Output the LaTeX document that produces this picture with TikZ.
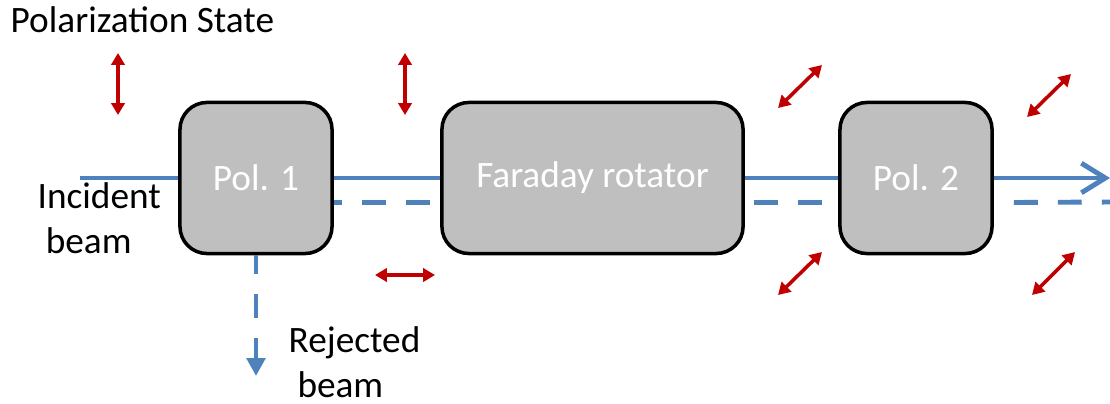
\documentclass[tikz,border=0pt]{standalone}
\usepackage{fontspec}
\setmainfont{Carlito}
\usetikzlibrary{arrows.meta}
\definecolor{beamblue}{HTML}{4F81BD}
\definecolor{polred}{HTML}{C00000}
\definecolor{boxgray}{HTML}{BFBFBF}

\begin{document}
\begin{tikzpicture}[x=0.01cm,y=-0.01cm,
    font=\fontsize{10.6}{12.8}\selectfont,
    box/.style={draw,line width=1pt,fill=boxgray,rounded corners=0.27cm,
      text=white,minimum height=1.51cm},
    beam/.style={draw=beamblue,line width=1.4pt},
    dashbeam/.style={beam,dash pattern=on 6.8pt off 5.7pt},
    pol/.style={draw=polred,line width=1pt,
      {Triangle[length=3.4pt,width=3.8pt]}-{Triangle[length=3.4pt,width=3.8pt]}},
    txt/.style={inner sep=0pt,align=left}]
\useasboundingbox (0,0) rectangle (1110,403);
%
\node [box,minimum width=1.52cm] at (256,178) (pol1) {Pol. 1};
\node [box,minimum width=3.01cm] at (592.5,178) (faraday) {Faraday rotator};
\node [box,minimum width=1.52cm] at (916,178) (pol2) {Pol. 2};
%
\coordinate (in) at (80,178);
\coordinate (out) at (1110,178);
\coordinate (outd) at (1110,202);
\coordinate (rej) at (256,376);
%
% transmitted beam
\draw[beam] (in) -- (pol1.west);
\draw[beam] (pol1.east) -- (faraday.west);
\draw[beam] (faraday.east) -- (pol2.west);
\draw[beam,-{Straight Barb[length=6.8pt,width=8.4pt]}] (pol2.east) -- (out);
% back-reflected beam
\draw[dashbeam,dash phase=4.5pt] ([yshift=-7pt]pol1.east) -- ([yshift=-7pt]faraday.west);
\draw[dashbeam,dash phase=10pt] ([yshift=-7pt]faraday.east) -- ([yshift=-7pt]pol2.west);
\draw[dashbeam,dash phase=6.8pt] ([yshift=-7pt]pol2.east) -- (outd);
% rejected beam
\draw[dashbeam,dash phase=1.5pt,-{Triangle[length=5.1pt,width=5.2pt]}] (pol1.south) -- (rej);
%
\node [txt,anchor=base west] at (10,32) (title) {Polarization State};
\node [txt,anchor=north west] at (37,182) (incident) {Incident\\\hspace*{2.3pt}beam};
\node [txt,anchor=north west] at (288,326) (rejected) {Rejected\\\hspace*{2.5pt}beam};
%
\draw[pol] (118,115) -- (118,53);
\draw[pol] (405,115) -- (405,53);
\draw[pol] (375,275) -- (435,275);
\draw[pol] (778,108) -- (822,65);
\draw[pol] (1027,117) -- (1071,74);
\draw[pol] (778,295) -- (822,252);
\draw[pol] (1032,295) -- (1075,252);
\end{tikzpicture}
\end{document}
